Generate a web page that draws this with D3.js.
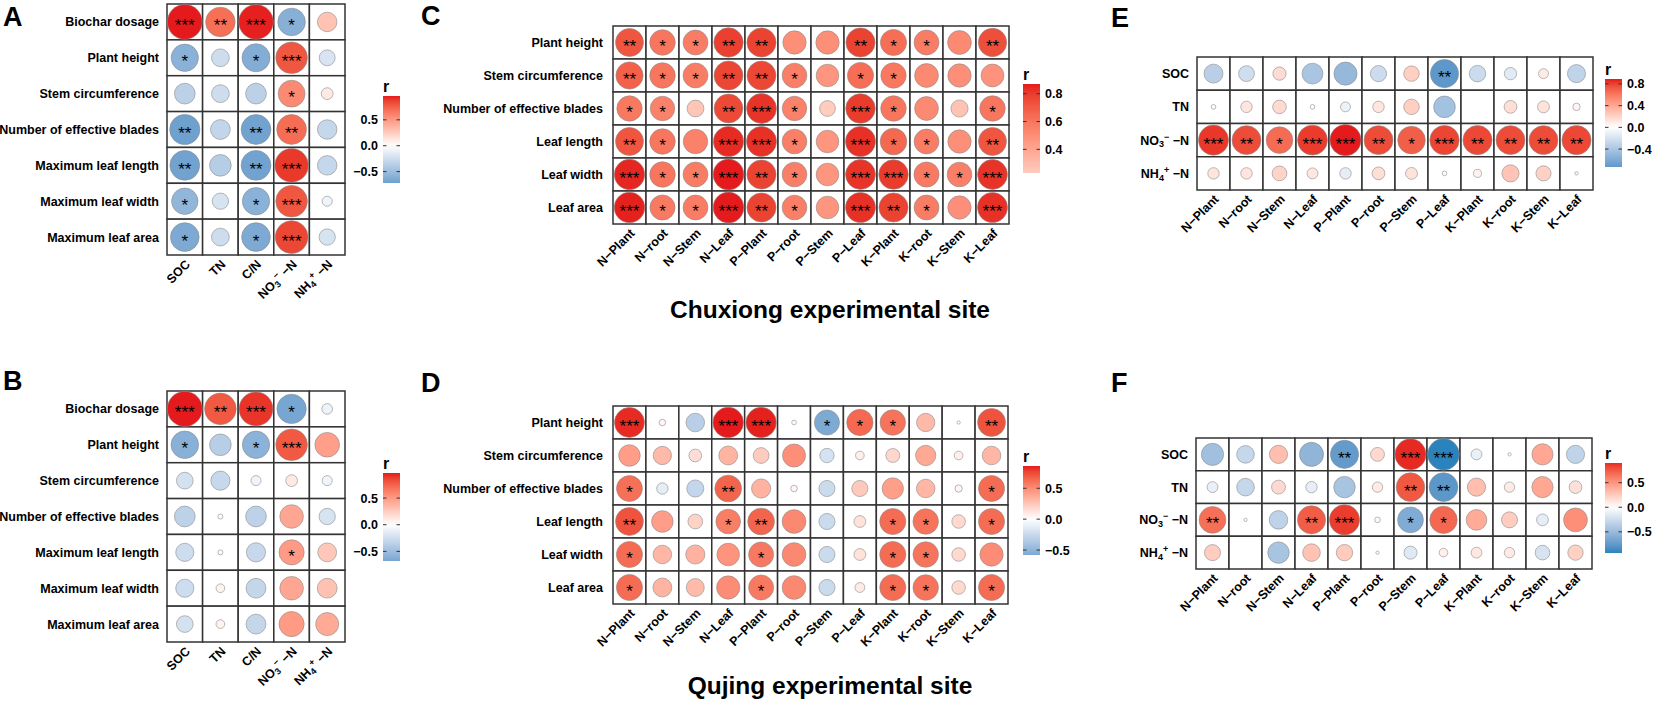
<!DOCTYPE html>
<meta charset="utf-8">
<style>
body { margin: 0; background: #fff; }
svg { display: block; font-family: "Liberation Sans", Arial, sans-serif; }
</style>
<body>
<svg id="fig" width="1654" height="703"></svg>
<script src="https://cdn.jsdelivr.net/npm/d3@7"></script>
<script>

// ---- labels ----
var growthRowsAB = ["Biochar dosage", "Plant height", "Stem circumference", "Number of effective blades",
                    "Maximum leaf length", "Maximum leaf width", "Maximum leaf area"];
var soilCols = ["SOC", "TN", "C/N", "NO3-N", "NH4-N"];
var growthRowsCD = ["Plant height", "Stem circumference", "Number of effective blades",
                    "Leaf length", "Leaf width", "Leaf area"];
var nutrientCols = ["N−Plant", "N−root", "N−Stem", "N−Leaf", "P−Plant", "P−root",
                    "P−Stem", "P−Leaf", "K−Plant", "K−root", "K−Stem", "K−Leaf"];
var soilRowsEF = ["SOC", "TN", "NO3-N", "NH4-N"];

// ---- correlation coefficients (r) and significance level (number of *) ----
var rA = [
  [ 0.96,  0.69,  0.95, -0.60,  0.30],
  [-0.59, -0.25, -0.62,  0.79, -0.20],
  [-0.34, -0.25, -0.34,  0.57,  0.11],
  [-0.72, -0.31, -0.70,  0.70, -0.30],
  [-0.70, -0.37, -0.70,  0.89, -0.30],
  [-0.55, -0.21, -0.59,  0.79, -0.08],
  [-0.65, -0.25, -0.65,  0.85, -0.21]
];
var pA = [
  [3, 2, 3, 1, 0],
  [1, 0, 1, 3, 0],
  [0, 0, 0, 1, 0],
  [2, 0, 2, 2, 0],
  [2, 0, 2, 3, 0],
  [1, 0, 1, 3, 0],
  [1, 0, 1, 3, 0]
];
var rB = [
  [ 0.97,  0.79,  0.91, -0.68, -0.09],
  [-0.60, -0.37, -0.59,  0.79,  0.48],
  [-0.22, -0.29, -0.08,  0.11, -0.08],
  [-0.34,  0.02, -0.34,  0.44, -0.21],
  [-0.26,  0.02, -0.29,  0.50,  0.28],
  [-0.26,  0.06, -0.31,  0.44,  0.31],
  [-0.22,  0.06, -0.31,  0.50,  0.42]
];
var pB = [
  [3, 2, 3, 1, 0],
  [1, 0, 1, 3, 0],
  [0, 0, 0, 0, 0],
  [0, 0, 0, 0, 0],
  [0, 0, 0, 1, 0],
  [0, 0, 0, 0, 0],
  [0, 0, 0, 0, 0]
];
var rC = [
  [0.72, 0.60, 0.57, 0.79, 0.78, 0.50, 0.50, 0.78, 0.63, 0.57, 0.52, 0.74],
  [0.68, 0.60, 0.57, 0.77, 0.77, 0.56, 0.47, 0.63, 0.59, 0.52, 0.50, 0.48],
  [0.59, 0.55, 0.26, 0.76, 0.82, 0.55, 0.23, 0.80, 0.60, 0.52, 0.27, 0.60],
  [0.72, 0.60, 0.55, 0.84, 0.83, 0.56, 0.47, 0.83, 0.65, 0.57, 0.50, 0.72],
  [0.85, 0.60, 0.57, 0.87, 0.78, 0.56, 0.47, 0.82, 0.80, 0.58, 0.56, 0.82],
  [0.86, 0.58, 0.57, 0.87, 0.78, 0.56, 0.47, 0.83, 0.78, 0.57, 0.50, 0.83]
];
var pC = [
  [2, 1, 1, 2, 2, 0, 0, 2, 1, 1, 0, 2],
  [2, 1, 1, 2, 2, 1, 0, 1, 1, 0, 0, 0],
  [1, 1, 0, 2, 3, 1, 0, 3, 1, 0, 0, 1],
  [2, 1, 0, 3, 3, 1, 0, 3, 1, 1, 0, 2],
  [3, 1, 1, 3, 2, 1, 0, 3, 3, 1, 1, 3],
  [3, 1, 1, 3, 2, 1, 0, 3, 2, 1, 0, 3]
];
var rD = [
  [0.83,  0.04, -0.32, 0.86, 0.85, 0.02, -0.58, 0.64, 0.60, 0.31, 0.01, 0.72],
  [0.43,  0.31,  0.15, 0.33, 0.23, 0.49, -0.19, 0.07, 0.18, 0.38, 0.07, 0.32],
  [0.62, -0.12, -0.27, 0.66, 0.34, 0.04, -0.24, 0.24, 0.42, 0.32, 0.05, 0.63],
  [0.72,  0.43,  0.20, 0.56, 0.66, 0.52, -0.24, 0.13, 0.63, 0.60, 0.17, 0.63],
  [0.63,  0.32,  0.34, 0.47, 0.58, 0.52, -0.24, 0.13, 0.63, 0.60, 0.17, 0.50],
  [0.63,  0.33,  0.30, 0.50, 0.58, 0.52, -0.24, 0.09, 0.63, 0.60, 0.17, 0.63]
];
var pD = [
  [3, 0, 0, 3, 3, 0, 1, 1, 1, 0, 0, 2],
  [0, 0, 0, 0, 0, 0, 0, 0, 0, 0, 0, 0],
  [1, 0, 0, 2, 0, 0, 0, 0, 0, 0, 0, 1],
  [2, 0, 0, 1, 2, 0, 0, 0, 1, 1, 0, 1],
  [1, 0, 0, 0, 1, 0, 0, 0, 1, 1, 0, 0],
  [1, 0, 0, 0, 1, 0, 0, 0, 1, 1, 0, 1]
];
var rE = [
  [-0.33, -0.23, 0.16, -0.40, -0.49, -0.24, 0.22, -0.73, -0.25, -0.14, 0.09, -0.30],
  [ 0.02,  0.12, 0.17,  0.02, -0.09,  0.12, 0.22, -0.43,  0.00,  0.15, 0.13,  0.05],
  [ 0.83,  0.77, 0.65,  0.82,  0.89,  0.77, 0.70,  0.79,  0.78,  0.77, 0.77,  0.78],
  [ 0.12,  0.12, 0.20,  0.11, -0.12,  0.15, 0.13,  0.02,  0.06,  0.27, 0.21,  0.01]
];
var pE = [
  [0, 0, 0, 0, 0, 0, 0, 2, 0, 0, 0, 0],
  [0, 0, 0, 0, 0, 0, 0, 0, 0, 0, 0, 0],
  [3, 2, 1, 3, 3, 2, 1, 3, 2, 2, 2, 2],
  [0, 0, 0, 0, 0, 0, 0, 0, 0, 0, 0, 0]
];
var rF = [
  [-0.46, -0.29,  0.31, -0.54, -0.74, 0.18,  0.90, -0.93, -0.11, -0.01,  0.42, -0.31],
  [-0.11, -0.29,  0.18, -0.12, -0.43, 0.10,  0.76, -0.77,  0.31,  0.10,  0.42,  0.15],
  [ 0.67,  0.01, -0.32,  0.74,  0.85, 0.03, -0.62,  0.70,  0.40,  0.24, -0.13,  0.53],
  [ 0.24,  0.00, -0.43,  0.29,  0.25, 0.01, -0.16,  0.07,  0.11,  0.10, -0.20,  0.22]
];
var pF = [
  [0, 0, 0, 0, 2, 0, 3, 3, 0, 0, 0, 0],
  [0, 0, 0, 0, 0, 0, 2, 2, 0, 0, 0, 0],
  [2, 0, 0, 2, 3, 0, 1, 1, 0, 0, 0, 0],
  [0, 0, 0, 0, 0, 0, 0, 0, 0, 0, 0, 0]
];

// legend breaks per panel
var ticksA = [-0.5, 0, 0.5],
    ticksB = [-0.5, 0, 0.5],
    ticksC = [0.4, 0.6, 0.8],
    ticksD = [-0.5, 0, 0.5],
    ticksE = [-0.4, 0, 0.4, 0.8],
    ticksF = [-0.5, 0, 0.5];

var lowCol = "#2B83BE",
    highCol = "#E41A1C";

var svg = d3.select("#fig");
var fmt = d3.format(".1f");

// writes a variable name, with sub/superscripts for the ions
function writeName(t, name, fs) {
  if (name === "NO3-N" || name === "NH4-N") {
    t.append("tspan").text(name === "NO3-N" ? "NO" : "NH");
    t.append("tspan").attr("font-size", fs * 0.72).attr("dy", fs * 0.22).text(name === "NO3-N" ? "3" : "4");
    t.append("tspan").attr("font-size", fs * 0.72).attr("dy", -fs * 0.62).text(name === "NO3-N" ? "−" : "+");
    t.append("tspan").attr("dy", fs * 0.4).text(" −N");
  } else {
    t.text(name);
  }
}

function panel(cfg) {
  var fs = 12.5;
  var x = d3.scaleBand().domain(d3.range(cfg.cols.length)).range([cfg.x0, cfg.x1]);
  var y = d3.scaleBand().domain(d3.range(cfg.rows.length)).range([cfg.y0, cfg.y1]);
  var all = d3.merge(cfg.r);
  var M = d3.max(all, Math.abs);
  var color = d3.scaleLinear().domain([-M, 0, M]).range([lowCol, "#ffffff", highCol])
      .interpolate(d3.interpolateLab);
  var rad = d3.scaleSqrt().domain([0, 1]).range([0, Math.min(x.bandwidth(), y.bandwidth()) / 2]);

  var cells = [];
  cfg.r.forEach(function(row, i) {
    row.forEach(function(v, j) { cells.push({i: i, j: j, v: v, p: cfg.p[i][j]}); });
  });

  var g = svg.append("g");

  g.selectAll("rect.cell")
      .data(cells)
    .enter().append("rect")
      .attr("x", function(d) { return x(d.j); })
      .attr("y", function(d) { return y(d.i); })
      .attr("width", x.bandwidth())
      .attr("height", y.bandwidth())
      .attr("fill", "#fff")
      .attr("stroke", "#333")
      .attr("stroke-width", 1.5);

  g.selectAll("circle")
      .data(cells.filter(function(d) { return d.v !== 0; }))
    .enter().append("circle")
      .attr("cx", function(d) { return x(d.j) + x.bandwidth() / 2; })
      .attr("cy", function(d) { return y(d.i) + y.bandwidth() / 2; })
      .attr("r", function(d) { return rad(Math.abs(d.v)); })
      .attr("fill", function(d) { return color(d.v); })
      .attr("stroke", "#8c8c8c")
      .attr("stroke-width", 0.6);

  g.selectAll("text.star")
      .data(cells.filter(function(d) { return d.p > 0; }))
    .enter().append("text")
      .attr("class", "star")
      .attr("x", function(d) { return x(d.j) + x.bandwidth() / 2; })
      .attr("y", function(d) { return y(d.i) + y.bandwidth() / 2 + 9.5; })
      .attr("text-anchor", "middle")
      .attr("font-size", 17)
      .attr("fill", "#000")
      .text(function(d) { return "***".slice(0, d.p); });

  // row labels
  g.selectAll("text.row")
      .data(cfg.rows)
    .enter().append("text")
      .attr("class", "row")
      .attr("x", cfg.x0 - cfg.rowGap)
      .attr("y", function(d, i) { return y(i) + y.bandwidth() / 2 + 4.5; })
      .attr("text-anchor", "end")
      .attr("font-size", fs)
      .attr("font-weight", "bold")
      .each(function(d) { writeName(d3.select(this), d, fs); });

  // column labels
  g.selectAll("text.col")
      .data(cfg.cols)
    .enter().append("text")
      .attr("class", "col")
      .attr("transform", function(d, i) {
        return "translate(" + (x(i) + x.bandwidth() / 2 + 6) + "," + (cfg.y1 + 10) + ") rotate(-45)";
      })
      .attr("text-anchor", "end")
      .attr("font-size", fs)
      .attr("font-weight", "bold")
      .each(function(d) { writeName(d3.select(this), d, fs); });

  // panel letter
  svg.append("text")
      .attr("x", cfg.lx).attr("y", cfg.ly)
      .attr("font-size", 27).attr("font-weight", "bold")
      .text(cfg.letter);

  // colour bar
  var ext = d3.extent(all);
  var ly = d3.scaleLinear().domain(ext).range([cfg.legY1, cfg.legY0]);
  var gid = "grad" + cfg.letter;
  var grad = svg.append("defs").append("linearGradient")
      .attr("id", gid).attr("x1", 0).attr("y1", 1).attr("x2", 0).attr("y2", 0);
  d3.range(0, 1.0001, 0.05).forEach(function(t) {
    grad.append("stop").attr("offset", t).attr("stop-color", color(ext[0] + t * (ext[1] - ext[0])));
  });
  var lg = svg.append("g");
  var bw = 17;
  lg.append("rect")
      .attr("x", cfg.legX).attr("y", cfg.legY0)
      .attr("width", bw).attr("height", cfg.legY1 - cfg.legY0)
      .attr("fill", "url(#" + gid + ")");
  lg.append("text")
      .attr("x", cfg.legX).attr("y", cfg.legY0 - 4)
      .attr("font-size", 16).attr("font-weight", "bold")
      .text("r");
  cfg.ticks.forEach(function(t) {
    lg.append("line").attr("x1", cfg.legX).attr("x2", cfg.legX + 3.5)
        .attr("y1", ly(t)).attr("y2", ly(t)).attr("stroke", "#333").attr("stroke-width", 1);
    lg.append("line").attr("x1", cfg.legX + bw - 3.5).attr("x2", cfg.legX + bw)
        .attr("y1", ly(t)).attr("y2", ly(t)).attr("stroke", "#333").attr("stroke-width", 1);
    lg.append("text")
        .attr("x", cfg.labelLeft ? cfg.legX - 5 : cfg.legX + bw + 5)
        .attr("y", ly(t) + 4.5)
        .attr("text-anchor", cfg.labelLeft ? "end" : "start")
        .attr("font-size", 12.5).attr("font-weight", "bold")
        .text(fmt(t));
  });
}

panel({letter: "A", rows: growthRowsAB, cols: soilCols, r: rA, p: pA,
       x0: 167, x1: 345, y0: 4, y1: 255, rowGap: 8, lx: 3, ly: 26,
       legX: 383, legY0: 96, legY1: 183, ticks: ticksA, labelLeft: true});
panel({letter: "B", rows: growthRowsAB, cols: soilCols, r: rB, p: pB,
       x0: 167, x1: 345, y0: 391, y1: 642, rowGap: 8, lx: 3, ly: 390,
       legX: 383, legY0: 473, legY1: 561, ticks: ticksB, labelLeft: true});
panel({letter: "C", rows: growthRowsCD, cols: nutrientCols, r: rC, p: pC,
       x0: 613, x1: 1009, y0: 26, y1: 224, rowGap: 10, lx: 421, ly: 25,
       legX: 1023, legY0: 84, legY1: 173, ticks: ticksC, labelLeft: false});
panel({letter: "D", rows: growthRowsCD, cols: nutrientCols, r: rD, p: pD,
       x0: 613, x1: 1008, y0: 406, y1: 604, rowGap: 10, lx: 421, ly: 392,
       legX: 1023, legY0: 466, legY1: 555, ticks: ticksD, labelLeft: false});
panel({letter: "E", rows: soilRowsEF, cols: nutrientCols, r: rE, p: pE,
       x0: 1197, x1: 1593, y0: 57, y1: 190, rowGap: 8, lx: 1111, ly: 27,
       legX: 1605, legY0: 79, legY1: 167, ticks: ticksE, labelLeft: false});
panel({letter: "F", rows: soilRowsEF, cols: nutrientCols, r: rF, p: pF,
       x0: 1196, x1: 1592, y0: 438, y1: 569, rowGap: 8, lx: 1111, ly: 392,
       legX: 1605, legY0: 463, legY1: 553, ticks: ticksF, labelLeft: false});

svg.append("text")
    .attr("x", 830).attr("y", 318)
    .attr("text-anchor", "middle")
    .attr("font-size", 24.5).attr("font-weight", "bold")
    .text("Chuxiong experimental site");
svg.append("text")
    .attr("x", 830).attr("y", 694)
    .attr("text-anchor", "middle")
    .attr("font-size", 24.5).attr("font-weight", "bold")
    .text("Qujing experimental site");

</script>
